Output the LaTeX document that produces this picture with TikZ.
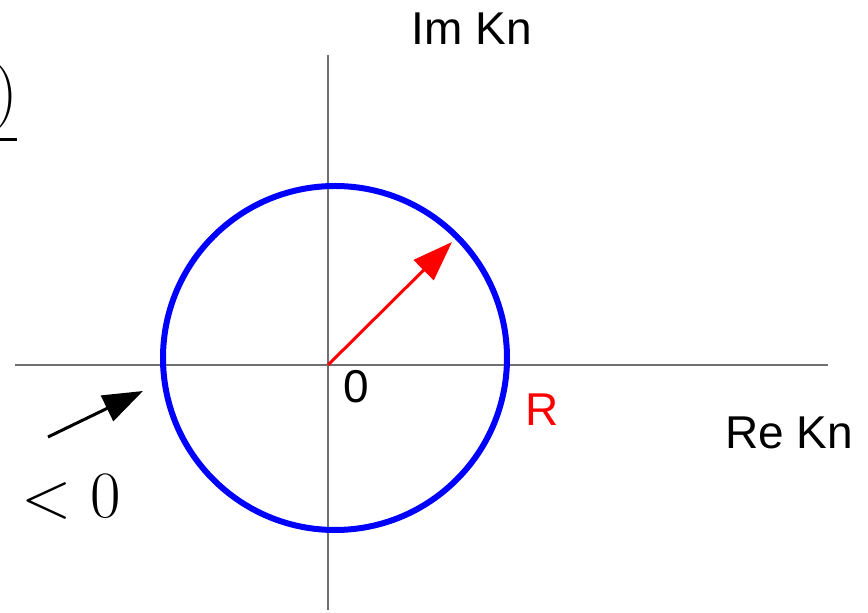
\documentclass[tikz,border=0pt]{standalone}
\usepackage{fontspec}
\usepackage{amsmath}
\usepackage{tikz}
\usetikzlibrary{arrows.meta}
\newfontfamily\labelfont{Liberation Sans}
\definecolor{axisgray}{RGB}{112,112,112}
\tikzset{
    axis/.style={draw=axisgray, line width=0.75pt},
    disc/.style={draw=blue, line width=3pt},
    radius arrow/.style={draw=red, line width=1.5pt, -{Triangle[length=20pt, width=14pt]}},
    pointer/.style={draw=black, line width=1.5pt, -{Triangle[length=20pt, width=14pt]}},
    axislabel/.style={font=\labelfont\fontsize{23}{26}\selectfont, inner sep=0pt, anchor=base},
    mathlabel/.style={font=\Huge, scale=1.33, inner sep=0pt, anchor=base east}
}

\begin{document}
\begin{tikzpicture}[x=0.5pt, y=-0.5pt]
            \useasboundingbox (0,0) rectangle (868,613);
            \clip (0,0) rectangle (868,613);

            % ---------- axes ----------
            \coordinate (O) at (328,365);
            \coordinate (xl) at (15,365);
            \coordinate (xr) at (828,365);
            \coordinate (yt) at (328,55);
            \coordinate (yb) at (328,610);

            \draw[axis] (xl) -- (xr);
            \draw[axis] (yt) -- (yb);

            \node[axislabel] (im) at (472,45) {Im Kn};
            \node[axislabel] (re) at (789,449) {Re Kn};
            \node[axislabel] (zero) at (356,403) {0};

            % ---------- circle of radius R ----------
            \coordinate (C) at (335,358);
            \draw[disc] (C) circle[radius=86pt];

            \coordinate (rtip) at (452,242);
            \draw[radius arrow] (O) -- (rtip);
            \node[axislabel, text=red] (rlabel) at (542,426) {R};

            % ---------- left side ----------
            \coordinate (ptail) at (48,437);
            \coordinate (ptip) at (143,391);
            \draw[pointer] (ptail) -- (ptip);

            \node[mathlabel] (ineq) at (121,518) {$<0$};
            \node[mathlabel] (cut) at (18,114) {$\underline{)}$};
        \end{tikzpicture}
\end{document}
